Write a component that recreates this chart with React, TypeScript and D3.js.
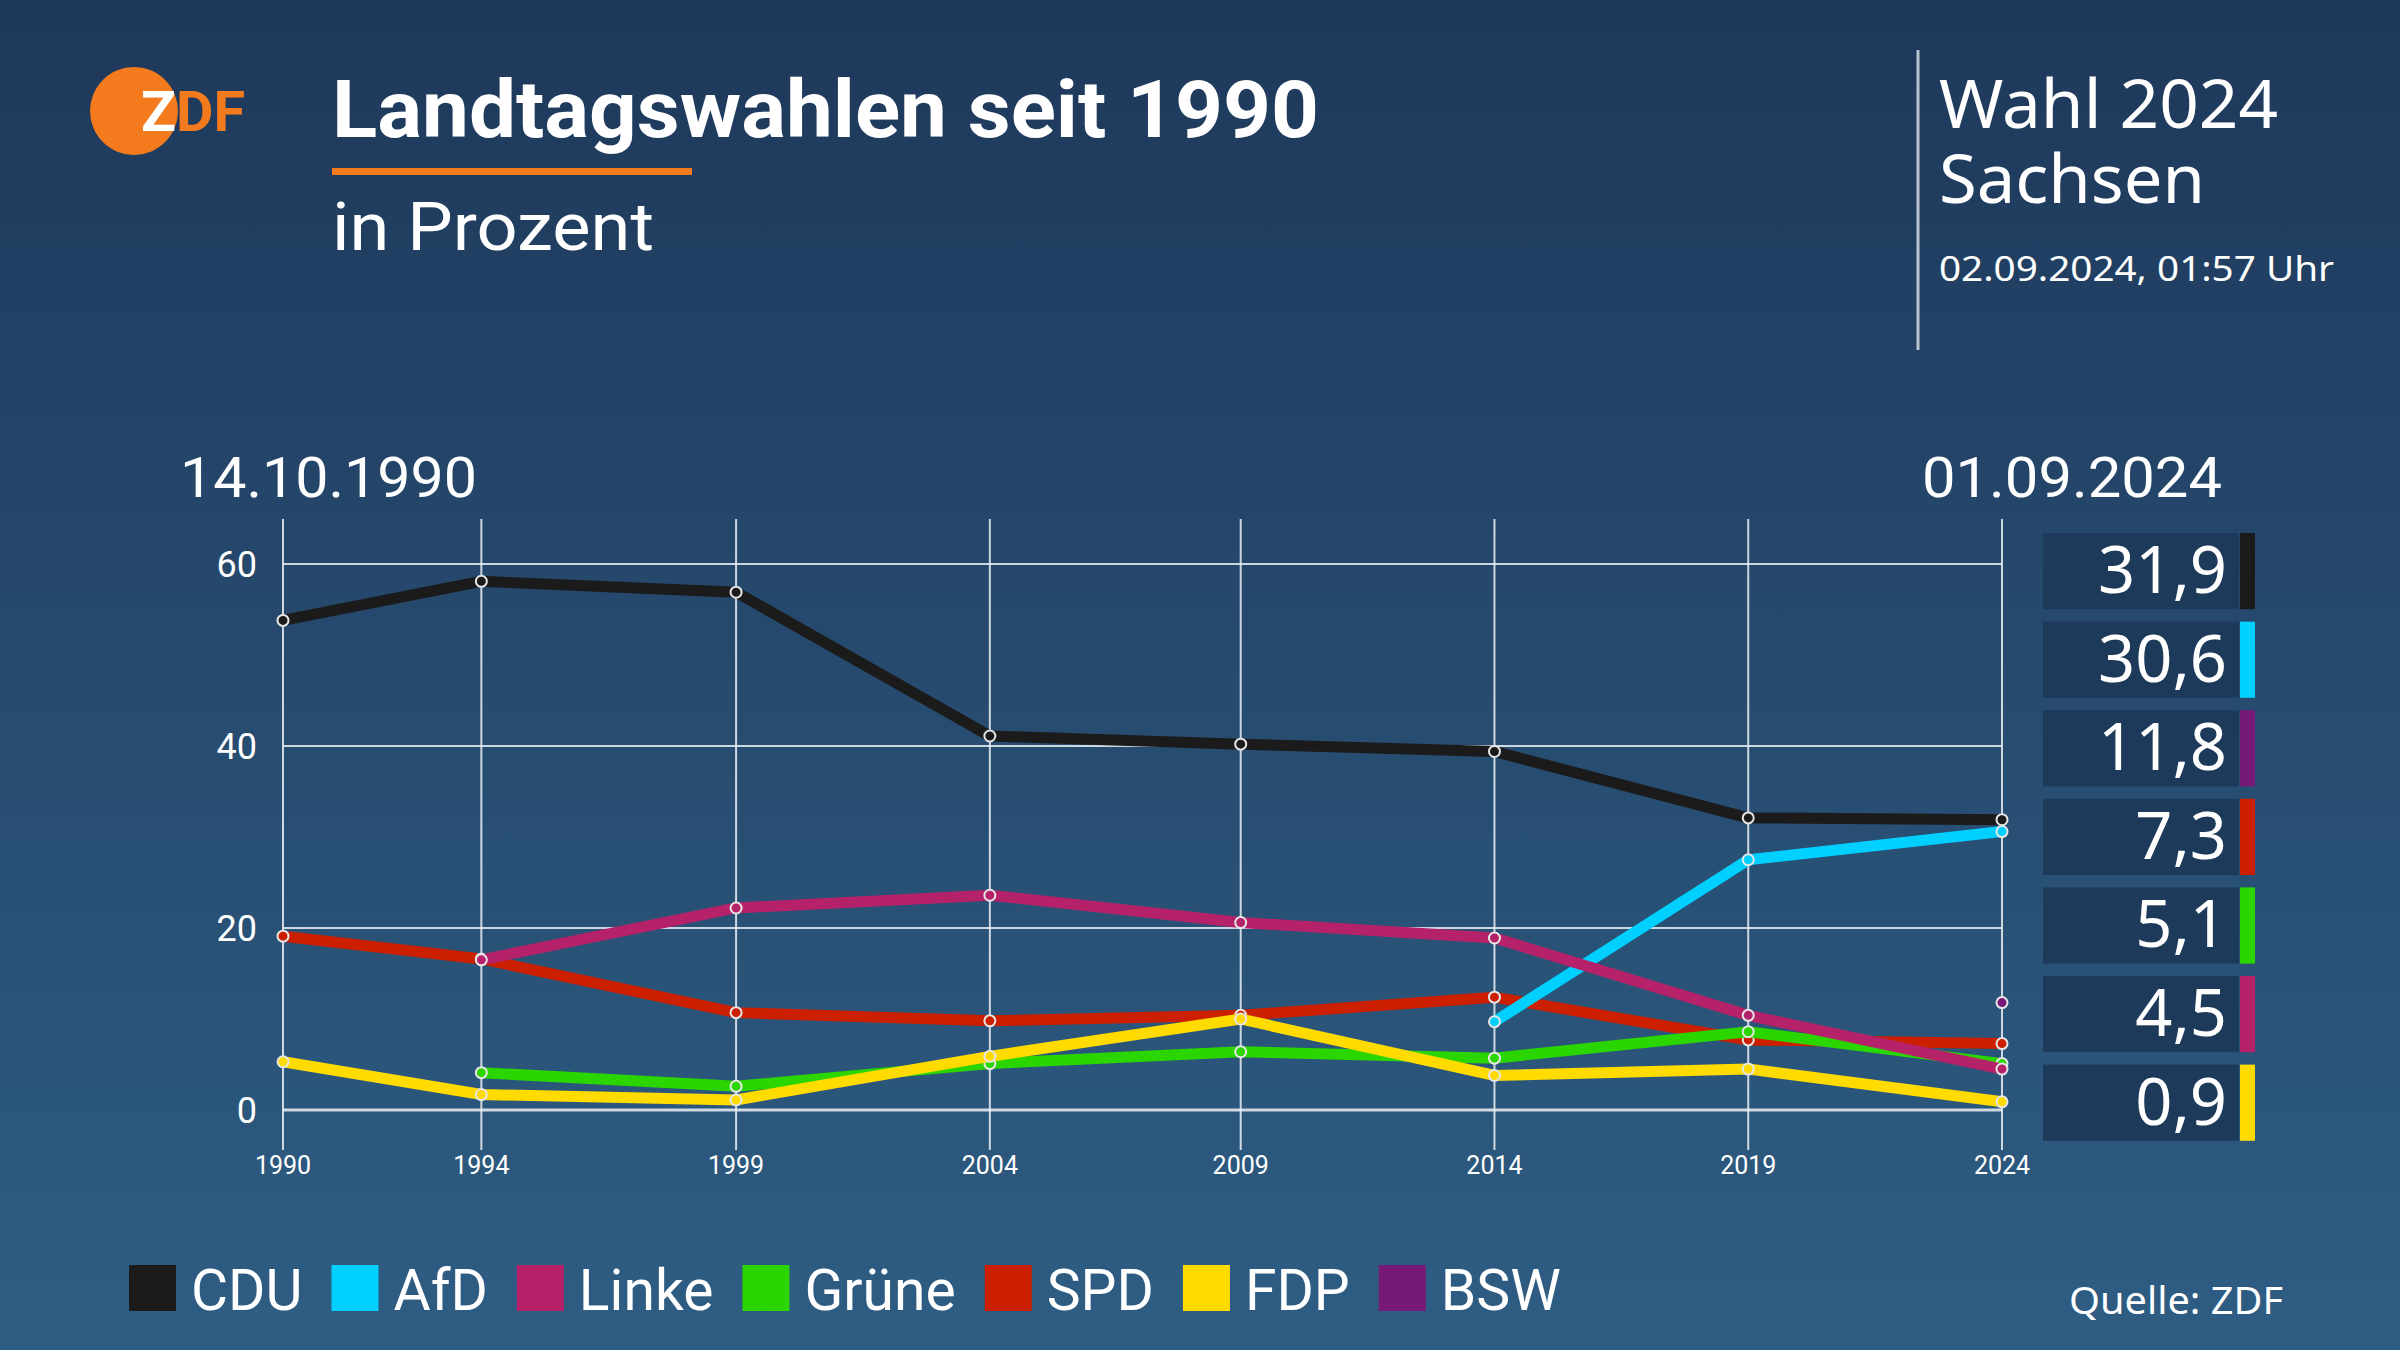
import React from 'react';
import * as d3 from 'd3';

const W = 2400;
const H = 1350;

// ---- data ----
const electionDates = ['1990-10-14', '1994-09-11', '1999-09-19', '2004-09-19', '2009-08-30', '2014-08-31', '2019-09-01', '2024-09-01'];
const yTicks = [0, 20, 40, 60];

const cdu = [53.8, 58.1, 56.9, 41.1, 40.2, 39.4, 32.1, 31.9];
const afd = [null, null, null, null, null, 9.7, 27.5, 30.6];
const linke = [null, 16.5, 22.2, 23.6, 20.6, 18.9, 10.4, 4.5];
const gruene = [null, 4.1, 2.6, 5.1, 6.4, 5.7, 8.6, 5.1];
const spd = [19.1, 16.6, 10.7, 9.8, 10.4, 12.4, 7.7, 7.3];
const fdp = [5.3, 1.7, 1.1, 5.9, 10.0, 3.8, 4.5, 0.9];
const bsw = [null, null, null, null, null, null, null, 11.8];

const parties = ['CDU', 'AfD', 'Linke', 'Grüne', 'SPD', 'FDP', 'BSW'];
const partyColors = ['#1b1b1b', '#00d0ff', '#b52269', '#2bd600', '#cc1f00', '#ffdb00', '#771a77'];
const partyValues: (number | null)[][] = [cdu, afd, linke, gruene, spd, fdp, bsw];
const drawOrder = ['SPD', 'Grüne', 'AfD', 'Linke', 'FDP', 'CDU', 'BSW'];

const titleText = 'Landtagswahlen seit 1990';
const subtitleText = 'in Prozent';
const sideTitle1 = 'Wahl 2024';
const sideTitle2 = 'Sachsen';
const sideDate = '02.09.2024, 01:57 Uhr';
const startLabel = '14.10.1990';
const endLabel = '01.09.2024';
const sourceText = 'Quelle: ZDF';

const parseDate = d3.timeParse('%Y-%m-%d');
const dates = electionDates.map((d) => parseDate(d) as Date);

const deLocale = d3.formatLocale({ decimal: ',', thousands: '.', grouping: [3], currency: ['', '€'] });
const fmt = deLocale.format('.1f');

let measureCtx: CanvasRenderingContext2D | null = null;
function measure(text: string, font: string, size: number): number {
  try {
    if (!measureCtx) measureCtx = document.createElement('canvas').getContext('2d');
    if (measureCtx) {
      measureCtx.font = font;
      return measureCtx.measureText(text).width;
    }
  } catch (e) {}
  return text.length * size * 0.55;
}

export default function App() {
  const x = d3.scaleTime().domain([dates[0], dates[dates.length - 1]]).range([283, 2002]);
  const y = d3.scaleLinear().domain([0, 60]).range([1110, 564]);

  const series = parties.map((p, i) => ({
    name: p,
    color: partyColors[i],
    points: dates.map((d, j) => ({ date: d, value: partyValues[i][j] })),
  }));

  const line = d3
    .line<{ date: Date; value: number | null }>()
    .defined((d) => d.value != null)
    .x((d) => x(d.date))
    .y((d) => y(d.value as number));

  const ordered = drawOrder.map((n) => series.find((s) => s.name === n)!);

  // value boxes sorted by last value
  const latest = series
    .map((s) => ({ name: s.name, color: s.color, value: s.points[s.points.length - 1].value as number }))
    .sort((a, b) => b.value - a.value);
  const boxStep = 88.6;
  const boxPad = 0.14;
  const boxBand = d3
    .scaleBand<string>()
    .domain(latest.map((d) => d.name))
    .range([533, 533 + boxStep * (latest.length - boxPad)])
    .paddingInner(boxPad)
    .paddingOuter(0);

  // legend layout
  const legendSize = 57;
  const legendFont = `400 ${legendSize}px Roboto`;
  let lx = 129;
  const legendItems = series.map((s) => {
    const item = { ...s, x: lx };
    const tw = measure(s.name, legendFont, legendSize);
    lx += 62 + tw + 29;
    return item;
  });

  const gridColor = 'rgba(235,240,245,0.85)';

  return (
    <svg
      width={W}
      height={H}
      viewBox={`0 0 ${W} ${H}`}
      style={{ position: 'absolute', left: 0, top: 0, display: 'block' }}
    >
      <defs>
        <linearGradient id="bg" x1="0" y1="0" x2="0" y2="1">
          <stop offset="0" stopColor="#1e385a" />
          <stop offset="1" stopColor="#2e5d83" />
        </linearGradient>
      </defs>
      <rect x={0} y={0} width={W} height={H} fill="url(#bg)" />

      {/* logo */}
      <circle cx={134} cy={111} r={44} fill="#f47a1e" />
      <text x={141} y={131} fontFamily="Roboto" fontWeight={700} fontSize={55} textLength={104} lengthAdjust="spacingAndGlyphs">
        <tspan fill="#ffffff">Z</tspan>
        <tspan fill="#f47a1e">DF</tspan>
      </text>

      {/* title */}
      <text x={332} y={137} fill="#fff" fontFamily="Roboto" fontWeight={700} fontSize={80} textLength={987} lengthAdjust="spacingAndGlyphs">
        {titleText}
      </text>
      <rect x={332} y={168} width={360} height={7} fill="#f47a1e" />
      <text x={332} y={250} fill="#fff" fontFamily="Roboto" fontWeight={400} fontSize={66} textLength={322} lengthAdjust="spacingAndGlyphs">
        {subtitleText}
      </text>

      {/* side info */}
      <line x1={1918} x2={1918} y1={50} y2={350} stroke="#b9c4cf" strokeWidth={3} />
      <text x={1939} y={128} fill="#fff" fontFamily="Noto Sans" fontSize={67} textLength={339} lengthAdjust="spacingAndGlyphs">
        {sideTitle1}
      </text>
      <text x={1939} y={203} fill="#fff" fontFamily="Noto Sans" fontSize={67} textLength={266} lengthAdjust="spacingAndGlyphs">
        {sideTitle2}
      </text>
      <text x={1939} y={281} fill="#fff" fontFamily="Noto Sans" fontSize={35} textLength={395} lengthAdjust="spacingAndGlyphs">
        {sideDate}
      </text>

      {/* date labels */}
      <text x={180} y={497} fill="#fff" fontFamily="Roboto" fontSize={55} textLength={297} lengthAdjust="spacingAndGlyphs">
        {startLabel}
      </text>
      <text x={2222} y={497} fill="#fff" fontFamily="Roboto" fontSize={55} textAnchor="end" textLength={300} lengthAdjust="spacingAndGlyphs">
        {endLabel}
      </text>

      {/* grid */}
      {dates.map((d, i) => (
        <line key={'v' + i} x1={x(d)} x2={x(d)} y1={519} y2={1150} stroke={gridColor} strokeWidth={2} />
      ))}
      {yTicks.map((t) => (
        <line key={'h' + t} x1={283} x2={2002} y1={y(t)} y2={y(t)} stroke={gridColor} strokeWidth={t === 0 ? 3 : 2} />
      ))}
      {yTicks.map((t) => (
        <text key={'yl' + t} x={257} y={y(t) + 13} fill="#fff" fontFamily="Roboto" fontSize={36} textAnchor="end">
          {t}
        </text>
      ))}
      {dates.map((d, i) => (
        <text key={'xl' + i} x={x(d)} y={1174} fill="#fff" fontFamily="Roboto" fontSize={25} textAnchor="middle">
          {d3.timeFormat('%Y')(d)}
        </text>
      ))}

      {/* series */}
      {ordered.map((s) => (
        <g key={s.name}>
          <path d={line(s.points) || ''} fill="none" stroke={s.color} strokeWidth={11} strokeLinejoin="miter" />
          {s.points
            .filter((p) => p.value != null)
            .map((p, j) => (
              <circle key={j} cx={x(p.date)} cy={y(p.value as number)} r={5.5} fill={s.color} stroke="#e6e6e6" strokeWidth={2} />
            ))}
        </g>
      ))}

      {/* value boxes */}
      {latest.map((d) => {
        const top = boxBand(d.name) as number;
        const h = boxBand.bandwidth();
        return (
          <g key={'box' + d.name}>
            <rect x={2043} y={top} width={196} height={h} fill="#1e3a5a" />
            <rect x={2240} y={top} width={15} height={h} fill={d.color} />
            <text x={2227} y={top + h / 2 + 22} fill="#fff" fontFamily="Noto Sans" fontSize={65} textAnchor="end">
              {fmt(d.value)}
            </text>
          </g>
        );
      })}

      {/* legend */}
      {legendItems.map((s) => (
        <g key={'lg' + s.name}>
          <rect x={s.x} y={1265} width={47} height={46} fill={s.color} />
          <text x={s.x + 62} y={1310} fill="#fff" fontFamily="Roboto" fontSize={legendSize}>
            {s.name}
          </text>
        </g>
      ))}

      <text x={2069} y={1314} fill="#fff" fontFamily="Noto Sans" fontSize={38} textLength={214} lengthAdjust="spacingAndGlyphs">
        {sourceText}
      </text>
    </svg>
  );
}
